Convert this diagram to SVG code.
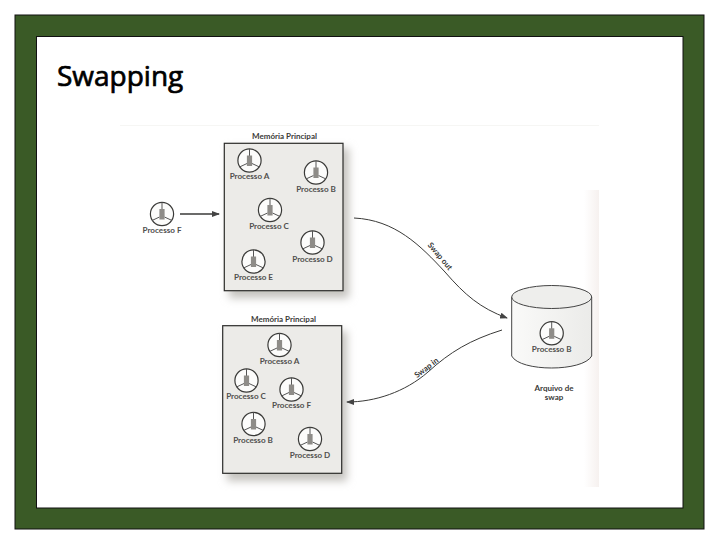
<svg xmlns="http://www.w3.org/2000/svg" xmlns:xlink="http://www.w3.org/1999/xlink" width="720" height="540" viewBox="0 0 720 540">
<style>
.lbl{font-family:"Lato","Liberation Sans",sans-serif;font-size:8.1px;font-weight:700;fill:#504f4d;text-anchor:middle}
.cap{font-family:"Lato","Liberation Sans",sans-serif;font-size:8px;font-weight:700;fill:#3a3a38;text-anchor:middle}
.box{fill:#ecebe8;stroke:#2c2c2a;stroke-width:1.2}
.conn{fill:none;stroke:#3a3a38;stroke-width:1}
.title{font-family:"Open Sans","DejaVu Sans",sans-serif;font-size:28px;fill:#000;stroke:#000;stroke-width:.7}
</style>
<defs>
<filter id="blur" x="-20%" y="-20%" width="140%" height="140%"><feGaussianBlur stdDeviation="4"/></filter>
<linearGradient id="cyl" x1="0" y1="0" x2="1" y2="0"><stop offset="0" stop-color="#fafaf9"/><stop offset="1" stop-color="#ebebe9"/></linearGradient>
<linearGradient id="edge" x1="0" y1="0" x2="1" y2="0"><stop offset="0" stop-color="#fff"/><stop offset="1" stop-color="#f6f1ef"/></linearGradient>
<marker id="ah" markerWidth="8" markerHeight="6" refX="7" refY="3" orient="auto" markerUnits="userSpaceOnUse"><path d="M0 0L8 3L0 6Z" fill="#444"/></marker>
<g id="proc">
<circle r="11.6" fill="#fcfcfb" stroke="#3a3a38" stroke-width="1.2"/>
<path d="M0 -11.6V-3M-2.5 3L-10 6.5M2.5 3L10 6.5" fill="none" stroke="#555" stroke-width="1"/>
<rect x="-2.6" y="-5" width="5.2" height="10.5" fill="#8e8c88"/>
</g>
</defs>
<rect width="720" height="540" fill="#fff"/>
<rect x="15" y="15" width="689" height="514" fill="#3a5a26" stroke="#111" stroke-width="1"/>
<rect x="36.500" y="36.500" width="646.500" height="471.500" fill="#fff" stroke="#111" stroke-width="1"/>
<text class="title" x="57" y="86">Swapping</text>
<rect x="120" y="125" width="479" height="1" fill="#f6f6f4"/>
<rect x="584" y="190" width="15" height="297" fill="url(#edge)"/>
<rect x="229" y="148" width="120" height="150" fill="#c4c2be" filter="url(#blur)"/>
<rect x="227" y="331" width="120" height="150" fill="#c4c2be" filter="url(#blur)"/>
<g id="connectors">
<path class="conn" style="stroke-width:1.3" marker-end="url(#ah)" d="M180 214H219"/>
<path class="conn" marker-end="url(#ah)" d="M354 218C395 220 420 245 445 272C465 295 480 308 507 318"/>
<path class="conn" marker-end="url(#ah)" d="M502 330C470 340 450 352 428 372C405 392 375 402 347 402"/>
<text class="cap" transform="translate(438 258) rotate(50)">Swap out</text>
<text class="cap" transform="translate(428 370) rotate(-37)">Swap in</text>
</g>
<g id="memoria-1">
<rect class="box" x="224.300" y="143.300" width="118.700" height="147.400"/>
<text class="cap" x="284.500" y="138.500">Memória Principal</text>
</g>
<g id="memoria-2">
<rect class="box" x="222.700" y="325.700" width="119" height="147.600"/>
<text class="cap" x="283.500" y="321.500">Memória Principal</text>
</g>
<g id="proc-f"><use href="#proc" x="162" y="214"/><text class="lbl" x="162" y="232.500">Processo F</text></g>
<g id="proc-a1"><use href="#proc" x="249.500" y="160.500"/><text class="lbl" x="249.500" y="179">Processo A</text></g>
<g id="proc-b1"><use href="#proc" x="316" y="172.500"/><text class="lbl" x="316" y="191.500">Processo B</text></g>
<g id="proc-c1"><use href="#proc" x="270" y="210"/><text class="lbl" x="269" y="228.500">Processo C</text></g>
<g id="proc-d1"><use href="#proc" x="312.500" y="242.500"/><text class="lbl" x="312.500" y="261.500">Processo D</text></g>
<g id="proc-e1"><use href="#proc" x="253.500" y="261.500"/><text class="lbl" x="253.500" y="279.500">Processo E</text></g>
<g id="proc-a2"><use href="#proc" x="279.500" y="345"/><text class="lbl" x="279.500" y="364">Processo A</text></g>
<g id="proc-c2"><use href="#proc" x="246.500" y="380.500"/><text class="lbl" x="246" y="399">Processo C</text></g>
<g id="proc-f2"><use href="#proc" x="291.500" y="389.500"/><text class="lbl" x="291.500" y="407.500">Processo F</text></g>
<g id="proc-b2"><use href="#proc" x="253.500" y="424"/><text class="lbl" x="253" y="443">Processo B</text></g>
<g id="proc-d2"><use href="#proc" x="310" y="439"/><text class="lbl" x="310" y="457.500">Processo D</text></g>
<g id="swap-file">
<path d="M511.700 297V356C520 372 583 372 591.700 356V297" fill="url(#cyl)" stroke="#444" stroke-width="1"/>
<ellipse cx="551.700" cy="297" rx="40" ry="11.500" fill="#eeeeec" stroke="#444" stroke-width="1"/>
<use href="#proc" x="551.700" y="333.300"/>
<text class="lbl" x="551.700" y="352">Processo B</text>
<text class="cap" x="554" y="391">Arquivo de</text>
<text class="cap" x="554" y="399.500">swap</text>
</g>
</svg>
